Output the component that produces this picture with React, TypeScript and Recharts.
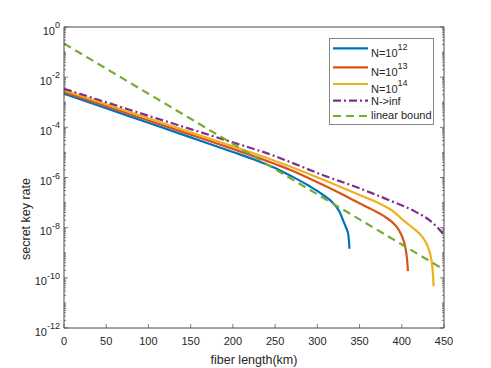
import { Legend, Line, LineChart, XAxis, YAxis } from "recharts";

const FONT = '"Liberation Sans", Arial, Helvetica, sans-serif';
const AXIS = "#4a4a4a";
const TEXT = "#262626";

const X_TICKS = [0, 50, 100, 150, 200, 250, 300, 350, 400, 450];
const Y_MAJOR_EXP = [-12, -10, -8, -6, -4, -2, 0];

// fiber length (km) and log10(secret key rate)
const N12_KM = [0, 50, 100, 150, 200, 225, 250, 270, 290, 305, 318, 326, 330.5, 334, 336.5, 337.5, 338];
const N12_EXP = [-2.66, -3.24, -3.82, -4.4, -4.98, -5.28, -5.62, -5.96, -6.33, -6.65, -7.0, -7.35, -7.71, -8.0, -8.25, -8.55, -8.84];

const N13_KM = [0, 50, 100, 150, 200, 250, 267.5, 290, 307, 330, 346, 365, 378, 388, 394, 399, 402, 404, 405.5, 406.5, 407.3];
const N13_EXP = [-2.59, -3.16, -3.73, -4.29, -4.86, -5.46, -5.69, -6.03, -6.3, -6.68, -6.96, -7.28, -7.52, -7.76, -7.97, -8.25, -8.5, -8.75, -9.05, -9.35, -9.73];

const N14_KM = [0, 50, 100, 150, 200, 250, 267.5, 307, 346, 378, 390, 401.5, 412, 421, 427, 431, 434, 436, 437, 437.7];
const N14_EXP = [-2.52, -3.08, -3.64, -4.2, -4.76, -5.34, -5.56, -6.09, -6.64, -7.11, -7.35, -7.7, -7.98, -8.24, -8.5, -8.77, -9.1, -9.5, -9.9, -10.34];

const INF_KM = [0, 50, 100, 150, 200, 250, 267.5, 307, 346, 385.5, 417, 433, 441, 448.5, 450];
const INF_EXP = [-2.46, -3.0, -3.54, -4.07, -4.6, -5.15, -5.38, -5.91, -6.38, -6.91, -7.38, -7.71, -7.95, -8.24, -8.32];

const BOUND_KM = [0, 50, 100, 150, 200, 250, 300, 350, 400, 450];
const BOUND_EXP = [-0.66, -1.66, -2.66, -3.66, -4.66, -5.67, -6.67, -7.67, -8.67, -9.67];

const toRows = (km: number[], exp: number[]) => km.map((x, i) => ({ x, y: 10 ** exp[i] }));

const Y_TICKS: number[] = [];
for (let e = -12; e <= 0; e++) {
  Y_TICKS.push(10 ** e);
  if (e < 0) for (let k = 2; k <= 9; k++) Y_TICKS.push(k * 10 ** e);
}

const SERIES = [
  { key: "n12", label: "N=10", sup: "12", color: "#0072BD", dash: undefined, rows: toRows(N12_KM, N12_EXP) },
  { key: "n13", label: "N=10", sup: "13", color: "#D95319", dash: undefined, rows: toRows(N13_KM, N13_EXP) },
  { key: "n14", label: "N=10", sup: "14", color: "#EDB120", dash: undefined, rows: toRows(N14_KM, N14_EXP) },
  { key: "inf", label: "N->inf", sup: "", color: "#7E2F8E", dash: "8 3 2 3", rows: toRows(INF_KM, INF_EXP) },
  { key: "bound", label: "linear bound", sup: "", color: "#77AC30", dash: "8 5", rows: toRows(BOUND_KM, BOUND_EXP) },
];

function majorExp(v: number) {
  const l = Math.log10(v);
  const e = Math.round(l);
  if (Math.abs(l - e) > 1e-6) return null;
  return Y_MAJOR_EXP.includes(e) ? e : null;
}

function YTick({ x, y, payload, side }: any) {
  const e = majorExp(payload.value);
  const len = e !== null ? 4 : 2;
  const dir = side === "left" ? 1 : -1;
  return (
    <g>
      <line x1={x} x2={x + dir * len} y1={y} y2={y} stroke={AXIS} strokeWidth={0.7} />
      {side === "left" && e !== null && (
        <text x={x - 4} y={y + 7.5} textAnchor="end" fontSize={11} fill={TEXT} fontFamily={FONT}>
          10
          <tspan dy={-6.5} fontSize={9}>
            {String(e)}
          </tspan>
        </text>
      )}
    </g>
  );
}

function XTick({ x, y, payload, side }: any) {
  const dir = side === "bottom" ? -1 : 1;
  return (
    <g>
      <line x1={x} x2={x} y1={y} y2={y + dir * 4} stroke={AXIS} strokeWidth={0.7} />
      {side === "bottom" && (
        <text x={x} y={y + 17} textAnchor="middle" fontSize={11} fill={TEXT} fontFamily={FONT}>
          {payload.value}
        </text>
      )}
    </g>
  );
}

const ROW_LINE = [10.3, 29.3, 46, 62.7, 78];
const ROW_TEXT = [19.3, 38, 55.3, 67, 81.3];

function LegendBox() {
  return (
    <svg width={105} height={87} style={{ display: "block" }}>
      <rect x={0.5} y={0.5} width={104} height={86} fill="#fff" stroke="#6a6a6a" strokeWidth={0.8} />
      {SERIES.map((s, i) => (
        <g key={s.key}>
          <line x1={4} x2={39} y1={ROW_LINE[i]} y2={ROW_LINE[i]} stroke={s.color} strokeWidth={2.2} strokeDasharray={s.dash} />
          <text x={42} y={ROW_TEXT[i]} fontSize={11} fill={TEXT} fontFamily={FONT}>
            {s.label}
            {s.sup && (
              <tspan dy={-7} fontSize={9}>
                {s.sup}
              </tspan>
            )}
          </text>
        </g>
      ))}
    </svg>
  );
}

export default function App() {
  return (
    <div style={{ position: "absolute", left: 0, top: 0, width: 491, height: 368, background: "#fff" }}>
      <LineChart width={491} height={368} margin={{ top: 26, right: 46, bottom: 0, left: 0 }}>
        <XAxis
          xAxisId="bottom"
          dataKey="x"
          type="number"
          domain={[0, 450]}
          ticks={X_TICKS}
          interval={0}
          height={40}
          tickSize={0}
          tickMargin={0}
          tickLine={false}
          stroke={AXIS}
          tick={<XTick side="bottom" />}
        />
        <XAxis
          xAxisId="top"
          orientation="top"
          dataKey="x"
          type="number"
          domain={[0, 450]}
          ticks={X_TICKS}
          interval={0}
          height={1}
          tickSize={0}
          tickMargin={0}
          tickLine={false}
          stroke={AXIS}
          tick={<XTick side="top" />}
        />
        <YAxis
          yAxisId="left"
          type="number"
          scale="log"
          domain={[1e-12, 1]}
          allowDataOverflow
          ticks={Y_TICKS}
          interval={0}
          width={64}
          tickSize={0}
          tickMargin={0}
          tickLine={false}
          stroke={AXIS}
          tick={<YTick side="left" />}
        />
        <YAxis
          yAxisId="right"
          orientation="right"
          type="number"
          scale="log"
          domain={[1e-12, 1]}
          allowDataOverflow
          ticks={Y_TICKS}
          interval={0}
          width={1}
          tickSize={0}
          tickMargin={0}
          tickLine={false}
          stroke={AXIS}
          tick={<YTick side="right" />}
        />
        {SERIES.map((s) => (
          <Line
            key={s.key}
            xAxisId="bottom"
            yAxisId="left"
            data={s.rows}
            dataKey="y"
            name={s.key}
            type="monotone"
            stroke={s.color}
            strokeWidth={2.2}
            strokeDasharray={s.dash}
            dot={false}
            activeDot={false}
            isAnimationActive={false}
          />
        ))}
        <Legend
          layout="vertical"
          align="center"
          verticalAlign="middle"
          wrapperStyle={{ left: 329, top: 38, width: 105, height: 87 }}
          content={<LegendBox />}
        />
      </LineChart>
      <div
        style={{
          position: "absolute",
          left: 0,
          top: 353,
          width: 508,
          textAlign: "center",
          fontFamily: FONT,
          fontSize: 12.5,
          color: TEXT,
          lineHeight: "14px",
        }}
      >
        fiber length(km)
      </div>
      <div
        style={{
          position: "absolute",
          left: 26,
          top: 178,
          transform: "translate(-100%, -50%) rotate(-90deg)",
          transformOrigin: "100% 50%",
          whiteSpace: "nowrap",
          fontFamily: FONT,
          fontSize: 12.5,
          color: TEXT,
        }}
      >
        secret key rate
      </div>
    </div>
  );
}
